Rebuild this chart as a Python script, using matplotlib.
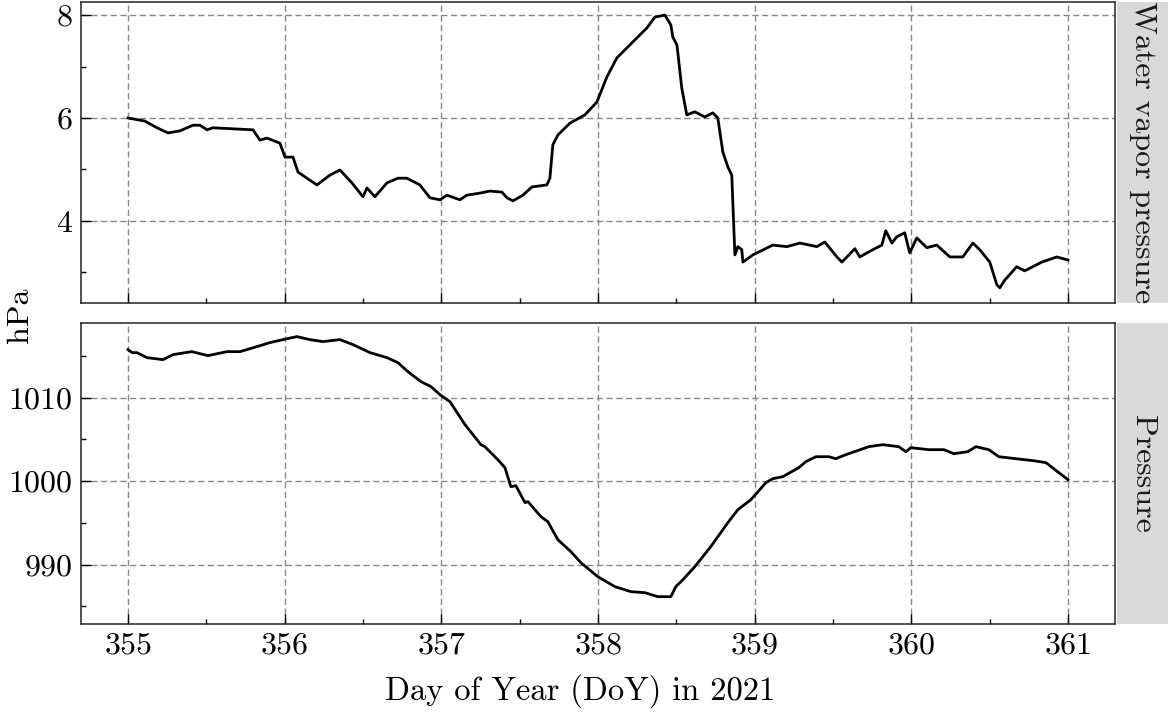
import matplotlib
matplotlib.use("Agg")
import matplotlib.pyplot as plt
from matplotlib.ticker import MultipleLocator, AutoMinorLocator
from matplotlib.patches import Rectangle

plt.rcParams["font.family"] = ["cmr10", "DejaVu Serif"]
plt.rcParams["axes.formatter.use_mathtext"] = True
plt.rcParams["mathtext.fontset"] = "cm"

# water vapor pressure (hPa)
doy_wv = [355.000, 355.108, 355.185, 355.255, 355.332, 355.415, 355.459, 355.504,
          355.542, 355.670, 355.798, 355.842, 355.887, 355.970, 356.002, 356.053,
          356.085, 356.142, 356.206, 356.289, 356.353, 356.429, 356.500, 356.525,
          356.576, 356.653, 356.723, 356.780, 356.863, 356.927, 356.991, 357.036,
          357.119, 357.163, 357.246, 357.310, 357.387, 357.419, 357.457, 357.521,
          357.578, 357.674, 357.693, 357.712, 357.744, 357.821, 357.916, 357.993,
          358.057, 358.121, 358.223, 358.312, 358.363, 358.427, 358.465, 358.478,
          358.504, 358.535, 358.567, 358.618, 358.682, 358.733, 358.765, 358.797,
          358.829, 358.854, 358.874, 358.893, 358.918, 358.925, 358.989, 359.116,
          359.206, 359.289, 359.397, 359.448, 359.525, 359.557, 359.640, 359.671,
          359.754, 359.812, 359.837, 359.876, 359.907, 359.958, 359.990, 360.035,
          360.099, 360.163, 360.246, 360.329, 360.393, 360.437, 360.501, 360.546,
          360.565, 360.597, 360.673, 360.724, 360.833, 360.929, 361.000]
wv = [6.00, 5.94, 5.81, 5.71, 5.75, 5.86, 5.86, 5.77,
      5.81, 5.79, 5.77, 5.57, 5.61, 5.51, 5.24, 5.24,
      4.95, 4.83, 4.70, 4.89, 4.99, 4.74, 4.47, 4.64,
      4.47, 4.74, 4.83, 4.83, 4.70, 4.45, 4.41, 4.50,
      4.41, 4.50, 4.54, 4.58, 4.56, 4.45, 4.39, 4.50,
      4.66, 4.70, 4.83, 5.48, 5.67, 5.90, 6.06, 6.31,
      6.80, 7.17, 7.48, 7.75, 7.96, 8.00, 7.81, 7.57,
      7.42, 6.58, 6.06, 6.12, 6.02, 6.10, 6.00, 5.34,
      5.05, 4.89, 3.34, 3.50, 3.44, 3.20, 3.34, 3.53,
      3.50, 3.57, 3.50, 3.59, 3.30, 3.20, 3.46, 3.30,
      3.44, 3.53, 3.81, 3.57, 3.69, 3.77, 3.38, 3.67,
      3.48, 3.53, 3.30, 3.30, 3.57, 3.44, 3.20, 2.76,
      2.70, 2.85, 3.11, 3.03, 3.20, 3.30, 3.24]

# surface pressure (hPa)
doy_p = [355.000, 355.026, 355.057, 355.121, 355.223, 355.287, 355.408, 355.510,
         355.632, 355.715, 355.823, 355.906, 355.989, 356.078, 356.161, 356.244,
         356.353, 356.436, 356.545, 356.653, 356.723, 356.787, 356.870, 356.934,
         356.991, 357.055, 357.151, 357.253, 357.278, 357.361, 357.406, 357.444,
         357.476, 357.534, 357.553, 357.636, 357.680, 357.744, 357.827, 357.891,
         357.999, 358.108, 358.210, 358.299, 358.382, 358.465, 358.497, 358.542,
         358.618, 358.720, 358.829, 358.893, 358.976, 359.072, 359.116, 359.180,
         359.282, 359.327, 359.391, 359.474, 359.518, 359.582, 359.729, 359.818,
         359.920, 359.965, 359.997, 360.112, 360.208, 360.271, 360.361, 360.412,
         360.495, 360.559, 360.667, 360.776, 360.859, 361.000]
pres = [1015.75, 1015.39, 1015.39, 1014.79, 1014.55, 1015.15, 1015.51, 1015.03,
        1015.51, 1015.51, 1016.11, 1016.59, 1016.95, 1017.31, 1016.95, 1016.71,
        1016.95, 1016.35, 1015.39, 1014.79, 1014.19, 1013.11, 1011.92, 1011.32,
        1010.36, 1009.52, 1006.77, 1004.37, 1004.13, 1002.57, 1001.62, 999.34,
        999.46, 997.43, 997.55, 995.75, 995.15, 992.99, 991.56, 990.24,
        988.56, 987.37, 986.77, 986.65, 986.17, 986.17, 987.37, 988.20,
        989.76, 992.16, 995.03, 996.59, 997.78, 999.82, 1000.30, 1000.54,
        1001.62, 1002.34, 1002.93, 1002.93, 1002.69, 1003.17, 1004.13, 1004.37,
        1004.13, 1003.53, 1004.01, 1003.77, 1003.77, 1003.29, 1003.53, 1004.13,
        1003.77, 1002.93, 1002.69, 1002.46, 1002.22, 1000.18]

panels = ["Water vapor pressure", "Pressure"]
x_ticks = [355, 356, 357, 358, 359, 360, 361]


def style_axis(ax, ylim, ymajor):
    ax.set_xlim(354.7, 361.3)
    ax.set_ylim(*ylim)
    ax.set_xticks(x_ticks)
    ax.yaxis.set_major_locator(MultipleLocator(ymajor))
    ax.xaxis.set_minor_locator(AutoMinorLocator(2))
    ax.yaxis.set_minor_locator(AutoMinorLocator(2))
    ax.tick_params(which="both", direction="in", labelsize=23, color="black")
    ax.tick_params(which="major", length=7, width=1, pad=6)
    ax.tick_params(which="minor", length=3.5, width=1)
    ax.grid(True, which="major", color="#888888", linestyle=(0, (4.5, 2.5)), linewidth=1.0)
    for s in ax.spines.values():
        s.set_linewidth(1.1)
        s.set_color("#222222")


def add_strip(fig, ax, label):
    pos = ax.get_position()
    fig.patches.append(Rectangle((pos.x1 + 0.0015, pos.y0), 0.044, pos.height,
                                 transform=fig.transFigure, facecolor="#d9d9d9",
                                 edgecolor="none", zorder=0))
    fig.text(pos.x1 + 0.0015 + 0.022, pos.y0 + pos.height / 2, label, rotation=270,
             ha="center", va="center", fontsize=23, color="#1a1a1a")


fig = plt.figure(figsize=(11.74, 7.15), dpi=100)
ax1 = fig.add_axes([0.0690, 0.5766, 0.8807, 0.4210])
ax2 = fig.add_axes([0.0690, 0.1273, 0.8807, 0.4205])

ax1.plot(doy_wv, wv, color="black", linewidth=2.0)
ax2.plot(doy_p, pres, color="black", linewidth=2.0)

style_axis(ax1, (2.41, 8.26), 2)
style_axis(ax2, (982.9, 1018.9), 10)
ax1.tick_params(labelbottom=False)

add_strip(fig, ax1, panels[0])
add_strip(fig, ax2, panels[1])

fig.text(0.017, 0.559, "hPa", rotation=90, ha="center", va="center", fontsize=23)
fig.text(0.494, 0.033, "Day of Year (DoY) in 2021", ha="center", va="center", fontsize=23.5)

fig.savefig("out.png", dpi=100)
